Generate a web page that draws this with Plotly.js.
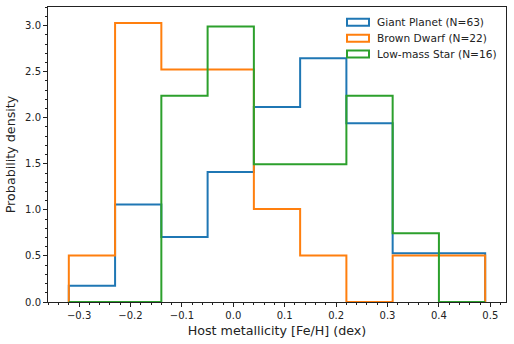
<!DOCTYPE html>
<html>
<head>
<meta charset="utf-8">
<script src="https://cdn.plot.ly/plotly-3.0.1.min.js"></script>
<style>html,body{margin:0;padding:0;background:#fff;}#chart{width:514px;height:344px;}</style>
</head>
<body>
<div id="chart"></div>
<script>
// Bin edges (host metallicity [Fe/H], dex)
const binEdges = [-0.32, -0.23, -0.14, -0.05, 0.04, 0.13, 0.22, 0.31, 0.40, 0.49];
// Probability density per bin
const giantPlanet = [0.176, 1.058, 0.705, 1.411, 2.116, 2.646, 1.940, 0.529, 0.529];
const brownDwarf  = [0.505, 3.030, 2.525, 2.525, 1.010, 0.505, 0.000, 0.505, 0.505];
const lowMassStar = [0.000, 0.000, 2.240, 2.990, 1.495, 1.495, 2.240, 0.747, 0.000];
const seriesNames = ['Giant Planet (N=63)', 'Brown Dwarf (N=22)', 'Low-mass Star (N=16)'];
const seriesColors = ['#1f77b4', '#ff7f0e', '#2ca02c'];

function stepTrace(vals, name, color) {
  const x = [binEdges[0]], y = [0];
  for (let i = 0; i < vals.length; i++) { x.push(binEdges[i]); y.push(vals[i]); }
  x.push(binEdges[binEdges.length - 1]); y.push(0);
  return {x: x, y: y, type: 'scatter', mode: 'lines', name: name,
    line: {shape: 'hv', color: color, width: 2}, showlegend: false, hoverinfo: 'skip'};
}

const data = [
  stepTrace(giantPlanet, seriesNames[0], seriesColors[0]),
  stepTrace(brownDwarf, seriesNames[1], seriesColors[1]),
  stepTrace(lowMassStar, seriesNames[2], seriesColors[2])
];

// manual legend (matplotlib-style patch handles)
const L = 48, T = 7, W = 458, H = 295;
const px = v => (v - L) / W, py = v => (T + H - v) / H;
const shapes = [], annotations = [];
const rows = [22.3, 38.3, 54];
for (let i = 0; i < 3; i++) {
  shapes.push({type: 'rect', xref: 'paper', yref: 'paper',
    x0: px(347), x1: px(369), y0: py(rows[i] + 3.5), y1: py(rows[i] - 3.5),
    line: {color: seriesColors[i], width: 2}, fillcolor: 'rgba(0,0,0,0)'});
  annotations.push({xref: 'paper', yref: 'paper', x: px(375), y: py(rows[i]),
    xanchor: 'left', yanchor: 'middle', text: seriesNames[i], showarrow: false,
    font: {size: 10.6, color: '#222'}});
}

const layout = {
  width: 514, height: 344,
  margin: {l: 48, r: 8, t: 7, b: 42},
  paper_bgcolor: '#fff', plot_bgcolor: '#fff',
  font: {family: 'DejaVu Sans', size: 10, color: '#222'},
  showlegend: false,
  xaxis: {
    range: [-0.3605, 0.5305], dtick: 0.1, tick0: 0, tickformat: '.1f',
    ticks: 'outside', ticklen: 4, tickwidth: 1, tickcolor: '#222',
    minor: {dtick: 0.02, ticks: 'outside', ticklen: 2, tickwidth: 1, tickcolor: '#222'},
    showgrid: false, zeroline: false, showline: true, mirror: true, linecolor: '#222', linewidth: 1,
    title: {text: 'Host metallicity [Fe/H] (dex)', font: {size: 12.7, color: '#222'}, standoff: 6},
    tickfont: {size: 10}
  },
  yaxis: {
    range: [0, 3.2025], dtick: 0.5, tick0: 0, tickformat: '.1f',
    ticks: 'outside', ticklen: 4, tickwidth: 1, tickcolor: '#222',
    minor: {dtick: 0.1, ticks: 'outside', ticklen: 2, tickwidth: 1, tickcolor: '#222'},
    showgrid: false, zeroline: false, showline: true, mirror: true, linecolor: '#222', linewidth: 1,
    title: {text: 'Probability density', font: {size: 12.7, color: '#222'}, standoff: 6},
    tickfont: {size: 10}
  },
  shapes: shapes,
  annotations: annotations
};

Plotly.newPlot('chart', data, layout, {displayModeBar: false, staticPlot: true});
</script>
</body>
</html>
